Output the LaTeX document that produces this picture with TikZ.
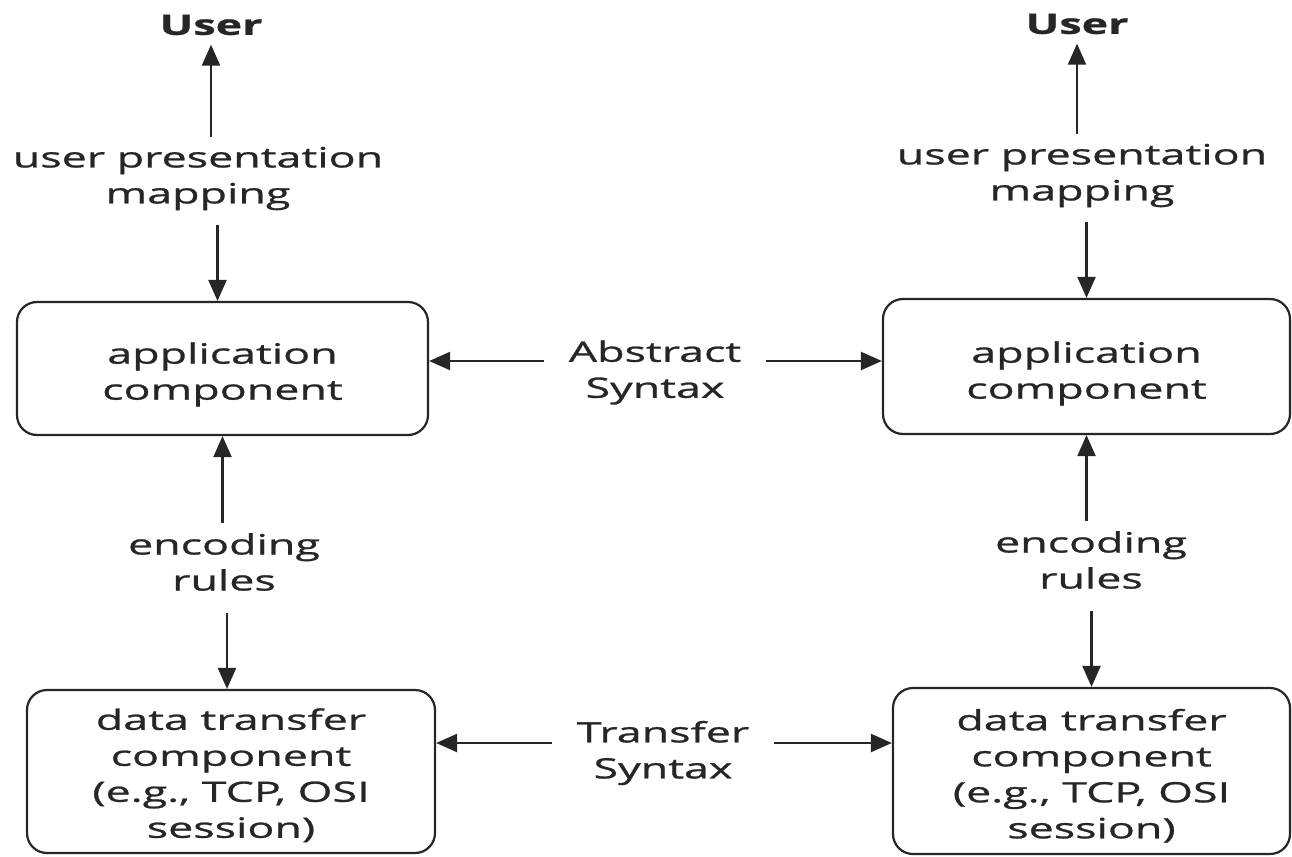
\documentclass[tikz,border=0pt]{standalone}
\usepackage{fontspec}
\setmainfont{Open Sans}[FakeStretch=1.6,FakeBold=0.9]
\usetikzlibrary{arrows.meta}
\definecolor{ink}{HTML}{262626}
\begin{document}
\begin{tikzpicture}[x=1pt,y=-1pt,
  every node/.style={font=\fontsize{28}{36}\selectfont, text=ink},
  lab/.style={align=center, inner xsep=25pt, inner ysep=10pt},
  userlab/.style={font=\fontsize{28}{36}\selectfont\bfseries},
  box/.style={draw=ink, line width=2.2pt, rounded corners=20pt, align=center, inner sep=0pt},
  arr/.style={draw=ink, line width=2.2pt, -{Triangle[length=21pt,width=18pt]}}]
\useasboundingbox[fill=white] (0,0) rectangle (1292,856);

% left column
\node[userlab] (userL) at (211,25) {User};
\node[lab] (upmL) at (198,178.5) {user presentation\\mapping};
\node[box, minimum width=411pt, minimum height=133pt] (appL) at (222.5,368.5) {\rule{0pt}{33pt}application\\component};
\node[lab] (encL) at (224,562) {encoding\\rules};
\node[box, minimum width=408pt, minimum height=163pt] (dtL) at (231,771.5) {\rule{0pt}{29pt}data transfer\\component\\(e.g., TCP, OSI\\session)};

% right column
\node[userlab] (userR) at (1077,24) {User};
\node[lab] (upmR) at (1082,175.5) {user presentation\\mapping};
\node[box, minimum width=407pt, minimum height=135pt] (appR) at (1086.5,366.5) {\rule{0pt}{35pt}application\\component};
\node[lab] (encR) at (1091,560) {encoding\\rules};
\node[box, minimum width=397pt, minimum height=166pt] (dtR) at (1091.5,771) {\rule{0pt}{31pt}data transfer\\component\\(e.g., TCP, OSI\\session)};

% middle labels
\node[lab] (absS) at (655,372.5) {Abstract\\Syntax};
\node[lab] (trS) at (663,753) {Transfer\\Syntax};

% left arrows
\draw[arr, shorten >=6pt] (upmL.north -| userL) -- (userL.south);
\draw[arr, shorten <=5pt] ([xshift=-5pt]appL.north |- upmL.south) -- ([xshift=-5pt]appL.north);
\draw[arr] (encL.north -| appL) -- (appL.south);
\draw[arr, shorten <=12pt] ([xshift=-4pt]dtL.north |- encL.south) -- ([xshift=-4pt]dtL.north);

% right arrows
\draw[arr, shorten >=6pt] (upmR.north -| userR) -- (userR.south);
\draw[arr, shorten <=5pt] (upmR.south -| appR) -- (appR.north);
\draw[arr] (encR.north -| appR) -- (appR.south);
\draw[arr, shorten <=12pt] (encR.south -| dtR) -- (dtR.north);

% middle arrows
\draw[arr] ([yshift=11.5pt]absS.west) -- ([yshift=11.5pt]absS.west -| appL.east);
\draw[arr] ([yshift=11.5pt]absS.east) -- ([yshift=11.5pt]absS.east -| appR.west);
\draw[arr] ([yshift=10pt]trS.west) -- ([yshift=10pt]trS.west -| dtL.east);
\draw[arr] ([yshift=10pt]trS.east) -- ([yshift=10pt]trS.east -| dtR.west);
\end{tikzpicture}
\end{document}
